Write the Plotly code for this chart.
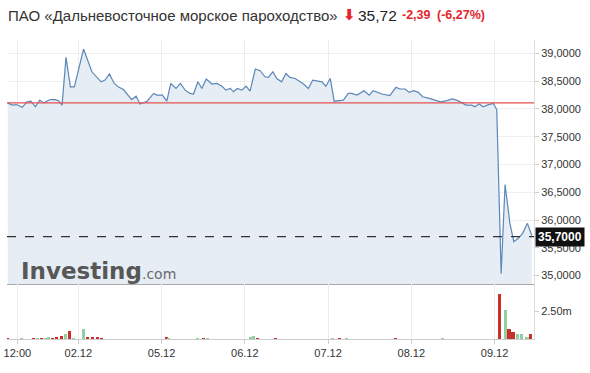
import plotly.graph_objects as go

# ---- data ----
bars = [0.1, 1.1, 2.1, 3.4, 4.5, 5.4, 6.4, 7.4, 8.3, 9.8, 10.9, 11.7, 12.5, 13.4, 14.4, 15.3,
        17.4, 19.3, 21.4, 22.3, 23.3, 24.4, 25.5, 26.5, 28.4, 29.4, 30.3, 31.9, 33.4, 34.1,
        35.4, 36.4, 37.3, 38.5, 39.5, 40.6, 41.7, 42.5, 43.5, 44.4, 45.4, 46.7, 47.8, 49.0,
        49.9, 50.9, 51.6, 52.5, 53.5, 54.5, 55.4, 56.6, 57.7, 58.8, 59.6, 60.6, 61.5, 62.6,
        63.6, 64.5, 65.7, 67.6, 68.7, 69.7, 71.8, 72.7, 73.7, 74.6, 76.7, 77.8, 78.6, 79.8,
        81.4, 82.6, 83.5, 85.5, 87.3, 88.7, 89.6, 90.8, 91.7, 92.8, 93.8, 94.8, 96.3, 97.8,
        98.9, 100.3, 101.6, 102.8, 103.7, 104.7, 106.0, 106.7, 107.7, 108.6, 109.5, 110.9,
        111.7, 112.7, 113.6, 114.7, 115.6, 116.6, 117.6, 118.7, 119.7]
price = [38.11, 38.07, 38.08, 38.03, 38.13, 38.14, 38.04, 38.16, 38.11, 38.17, 38.17, 38.15,
         38.07, 38.93, 38.40, 38.40, 39.08, 38.67, 38.49, 38.52, 38.63, 38.46, 38.39, 38.35,
         38.17, 38.23, 38.09, 38.14, 38.28, 38.25, 38.25, 38.14, 38.46, 38.37, 38.46, 38.34,
         38.28, 38.27, 38.49, 38.37, 38.54, 38.45, 38.46, 38.41, 38.34, 38.37, 38.31, 38.37,
         38.34, 38.41, 38.32, 38.72, 38.69, 38.58, 38.57, 38.67, 38.55, 38.49, 38.64, 38.57,
         38.55, 38.45, 38.37, 38.52, 38.49, 38.41, 38.55, 38.14, 38.16, 38.28, 38.28, 38.25,
         38.33, 38.25, 38.33, 38.27, 38.24, 38.39, 38.36, 38.36, 38.30, 38.33, 38.30, 38.22,
         38.19, 38.15, 38.13, 38.15, 38.18, 38.15, 38.11, 38.07, 38.07, 38.04, 38.09, 38.04,
         38.07, 38.10, 37.99, 35.03, 36.64, 35.94, 35.61, 35.67, 35.76, 35.94, 35.72]

vol_bars = [0.0, 3.2, 5.9, 6.8, 7.8, 8.7, 9.4, 10.3, 11.2, 12.3, 13.2, 14.1, 15.1, 17.3, 18.2,
            19.4, 20.5, 21.4, 36.3, 36.7, 43.3, 44.7, 45.6, 55.4, 56.1, 57.0, 61.3, 74.3,
            75.9, 77.5, 88.5, 99.4, 112.4, 113.6, 114.5, 115.4, 116.5, 117.4, 118.6, 119.5]
vol = [0.04, 0.04, 0.04, 0.04, 0.05, 0.05, 0.18, 0.05, 0.18, 0.27, 0.45, 0.71, 0.05, 0.89, 0.15,
       0.12, 0.12, 0.04, 0.13, 0.08, 0.04, 0.04, 0.04, 0.18, 0.27, 0.05, 0.04, 0.04,
       0.04, 0.04, 0.04, 0.04, 4.00, 2.60, 0.90, 0.62, 0.45, 0.45, 0.18, 0.45]
vol_dir = ["d", "u", "d", "u", "d", "u", "u", "d", "d", "d", "u", "d", "u", "u", "d",
           "d", "d", "d", "d", "u", "u", "d", "u", "u", "u", "d", "d", "u",
           "d", "u", "d", "u", "d", "u", "d", "d", "u", "u", "u", "d"]

tick_pos = [2.3, 16.2, 35.2, 54.2, 73.2, 92.2, 111.2]
tick_labels = ["12:00", "02.12", "05.12", "06.12", "07.12", "08.12", "09.12"]
price_ticks = [35.0, 35.5, 36.0, 36.5, 37.0, 37.5, 38.0, 38.5, 39.0]
vol_ticks = [2.5]
vol_tick_labels = ["2.50m"]
prev_close = 38.11
last_price = 35.70
title_name = "ПАО «Дальневосточное морское пароходство»"
title_price = "35,72"
title_change = "-2,39"
title_pct = "(-6,27%)"

# ---- layout helpers (pixel -> paper) ----
L, R, T, B = 7, 56, 40, 34
W, H = 590, 373
PW, PH = W - L - R, H - T - B
def px(x):
    return (x - L) / PW
def py(y):
    return (H - B - y) / PH

col_map = {"u": "#8fcfa2", "d": "#c9302c"}
FONT = "Liberation Sans, Arial, sans-serif"
REDTXT = "#e3262b"

fig = go.Figure()
fig.add_trace(go.Scatter(
    x=bars, y=price, mode="lines",
    line=dict(color="#5b87b8", width=1.2),
    fill="tozeroy", fillcolor="#e6edf5",
    xaxis="x", yaxis="y", hoverinfo="skip", showlegend=False))
fig.add_trace(go.Bar(
    x=vol_bars, y=vol, marker=dict(color=[col_map[d] for d in vol_dir], line_width=0),
    width=0.7, xaxis="x2", yaxis="y2", hoverinfo="skip", showlegend=False))

vol_dom = 55 / PH
fig.update_layout(
    width=W, height=H,
    margin=dict(l=L, r=R, t=T, b=B, autoexpand=False),
    paper_bgcolor="white", plot_bgcolor="white",
    font=dict(family=FONT, color="#333"),
    xaxis=dict(domain=[0, 1], anchor="y", range=[-0.07, 120.2], showticklabels=False,
               showgrid=True, gridcolor="#ececec", gridwidth=1, zeroline=False, automargin=False,
               tickvals=tick_pos, showline=True, linecolor="#a8a8a8", linewidth=1, ticks=""),
    xaxis2=dict(domain=[0, 1], anchor="y2", matches="x", tickvals=tick_pos, ticktext=tick_labels,
                showgrid=True, gridcolor="#ececec", zeroline=False, showline=True, automargin=False,
                linecolor="#cccccc", ticks="outside", ticklen=4, tickcolor="#cccccc",
                tickfont=dict(size=11, color="#333")),
    yaxis=dict(domain=[vol_dom, 1], anchor="x", side="right", range=[34.847, 39.243],
               tickvals=price_ticks, automargin=False,
               ticktext=[f"{v:.4f}".replace(".", ",") for v in price_ticks],
               showgrid=True, gridcolor="#efefef", zeroline=False, showline=True,
               linecolor="#dddddd", ticks="outside", ticklen=4, tickcolor="#cccccc",
               tickfont=dict(size=11, color="#333")),
    yaxis2=dict(domain=[0, vol_dom], anchor="x2", side="right", range=[0, 4.91],
                tickvals=vol_ticks, ticktext=vol_tick_labels, showgrid=False, zeroline=False,
                showline=True, linecolor="#dddddd", ticks="outside", ticklen=4, automargin=False,
                tickcolor="#cccccc", tickfont=dict(size=11, color="#333")),
    bargap=0,
)

fig.add_shape(type="line", xref="paper", x0=0, x1=1, yref="y", y0=prev_close, y1=prev_close,
              line=dict(color="#e35050", width=1.2))
fig.add_shape(type="line", xref="paper", x0=0, x1=1, yref="y", y0=last_price, y1=last_price,
              line=dict(color="#333333", width=1.3, dash="dash"))

ann = []
ann.append(dict(x=1, xref="paper", xanchor="left", xshift=1, y=last_price, yref="y",
                yanchor="middle", text="<b>" + f"{last_price:.4f}".replace(".", ",") + "</b>",
                showarrow=False, bgcolor="#111111", borderpad=2,
                font=dict(size=12, color="white", family=FONT)))
ty = py(15)
ann.append(dict(x=px(6), y=ty, xref="paper", yref="paper", xanchor="left", yanchor="middle",
                text=title_name, showarrow=False, font=dict(size=15, color="#333", family=FONT)))
ann.append(dict(x=px(341), y=ty, xref="paper", yref="paper", xanchor="left", yanchor="middle",
                text="<b>⬇</b>", showarrow=False, font=dict(size=15, color=REDTXT, family="DejaVu Sans")))
ann.append(dict(x=px(356), y=ty, xref="paper", yref="paper", xanchor="left", yanchor="middle",
                text=title_price, showarrow=False, font=dict(size=15.5, color="#222", family=FONT)))
ann.append(dict(x=px(400), y=ty, xref="paper", yref="paper", xanchor="left", yanchor="middle",
                text="<b>" + title_change + "</b>", showarrow=False,
                font=dict(size=12.5, color=REDTXT, family=FONT)))
ann.append(dict(x=px(435), y=ty, xref="paper", yref="paper", xanchor="left", yanchor="middle",
                text="<b>" + title_pct + "</b>", showarrow=False,
                font=dict(size=12.5, color=REDTXT, family=FONT)))
ann.append(dict(x=px(19), y=py(286), xref="paper", yref="paper", xanchor="left", yanchor="bottom",
                text="<b>Investing</b><span style='font-size:14px;color:#6a6a6a'>.com</span>",
                showarrow=False, font=dict(size=23, color="#575757", family="DejaVu Sans")))
fig.update_layout(annotations=ann)

fig.write_html("out.html")
